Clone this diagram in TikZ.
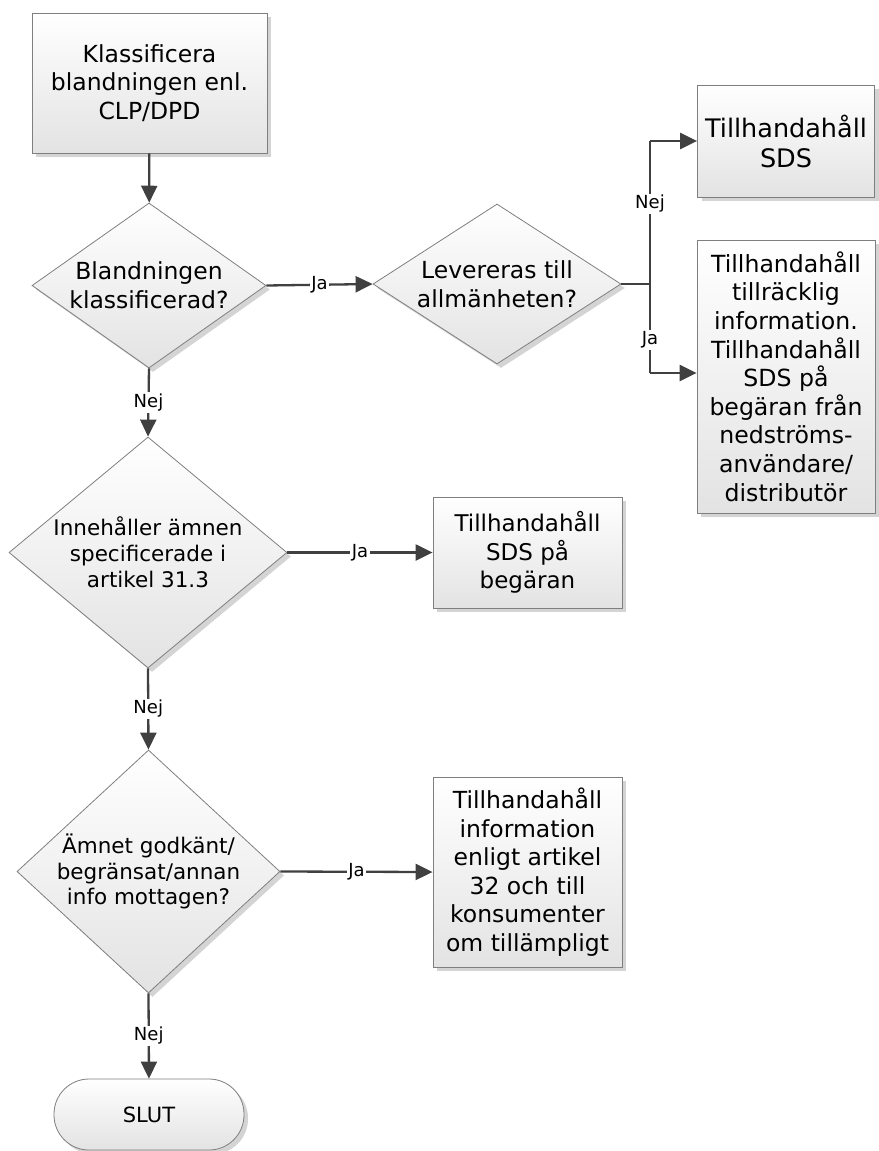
\documentclass[tikz,border=0pt]{standalone}
\usepackage{fontspec}
\setmainfont{DejaVu Sans}
\usetikzlibrary{shapes.geometric,arrows.meta,shadows}
\definecolor{edgec}{HTML}{404040}
\definecolor{bordc}{HTML}{7F7F7F}
\definecolor{shadc}{HTML}{D4D4D4}
\tikzset{
  shp/.style={draw=bordc, line width=0.8pt, top color=white, bottom color=black!11,
    drop shadow={shadow xshift=4pt, shadow yshift=-4pt, fill=shadc, opacity=1}},
  box/.style={shp, rectangle, inner sep=0pt, align=center, text=black,
    font=\fontsize{23.5}{28.7}\selectfont},
  dia/.style={shp, diamond, inner sep=0pt},
  txt/.style={align=center, inner sep=0pt, text=black, font=\fontsize{23.5}{28.7}\selectfont},
  arr/.style={draw=edgec, line width=2.3pt, -{Triangle[length=17pt,width=16pt]}},
  ln/.style={draw=edgec, line width=2.3pt},
  lbl/.style={fill=white, inner sep=1.5pt, text=black, font=\fontsize{18}{20}\selectfont},
}
\begin{document}
\begin{tikzpicture}[x=1pt, y=-1pt]
\useasboundingbox (0,0) rectangle (878,1151);

% nodes
\node[box, minimum width=235pt, minimum height=140pt] (b1) at (149.5,83)
  {Klassificera\\blandningen enl.\\CLP/DPD};

\node[dia, minimum width=234pt, minimum height=165pt] (d1) at (149,285.5) {};
\node[txt] (d1t) at (d1) {Blandningen\\klassificerad?};

\node[dia, minimum width=248pt, minimum height=160pt] (d2) at (497,284) {};
\node[txt] (d2t) at (d2) {Levereras till\\allmänheten?};

\node[box, minimum width=177pt, minimum height=112pt, font=\fontsize{25.5}{30}\selectfont] (b3) at (786,141)
  {Tillhandahåll\\SDS};

\node[box, minimum width=178pt, minimum height=273pt, font=\fontsize{23.6}{28.6}\selectfont] (b4) at (786,376.5)
  {Tillhandahåll\\tillräcklig\\information.\\Tillhandahåll\\SDS på\\begäran från\\nedströms-\\användare/\\distributör};

\node[dia, minimum width=278pt, minimum height=231pt] (d3) at (148,552.5) {};
\node[txt, font=\fontsize{21.5}{26}\selectfont] (d3t) at (d3) {Innehåller ämnen\\specificerade i\\artikel 31.3};

\node[box, minimum width=189pt, minimum height=111pt, font=\fontsize{23}{28.3}\selectfont] (b5) at (527.5,552.5)
  {Tillhandahåll\\SDS på\\begäran};

\node[dia, minimum width=263pt, minimum height=243pt] (d4) at (148.5,871.5) {};
\node[txt, font=\fontsize{21.5}{25.5}\selectfont] (d4t) at (d4) {Ämnet godkänt/\\begränsat/annan\\info mottagen?};

\node[box, minimum width=189pt, minimum height=190pt, font=\fontsize{23.5}{28.5}\selectfont] (b6) at (527.5,872)
  {Tillhandahåll\\information\\enligt artikel\\32 och till\\konsumenter\\om tillämpligt};

\node[box, rounded corners=35pt, minimum width=190pt, minimum height=71pt, font=\fontsize{21}{24}\selectfont] (slut) at (149,1114.5) {SLUT};

% connectors
\coordinate (br) at (650,284);
\coordinate (b4in) at ([yshift=3.5pt]b4.west);
\coordinate (brup) at (br |- b3.west);
\coordinate (brdn) at (br |- b4in);
\draw[arr] (b1) -- (d1);
\draw[arr] (d1.east) -- node[lbl] {Ja} (d2.west);
\draw[ln] (d2.east) -- (br);
\draw[ln] (br) -- node[lbl, pos=0.56] {Nej} (brup);
\draw[arr] (brup) -- (b3.west);
\draw[ln] (br) -- node[lbl, pos=0.63] {Ja} (brdn);
\draw[arr] (brdn) -- (b4in);
\draw[arr] (d1.south) -- node[lbl] {Nej} (d3.north);
\draw[arr] (d3.east) -- node[lbl] {Ja} (b5.west);
\draw[arr] (d3.south) -- node[lbl] {Nej} (d4.north);
\draw[arr] (d4.east) -- node[lbl] {Ja} (b6.west);
\draw[arr] (d4.south) -- node[lbl] {Nej} (slut.north);
\end{tikzpicture}
\end{document}
